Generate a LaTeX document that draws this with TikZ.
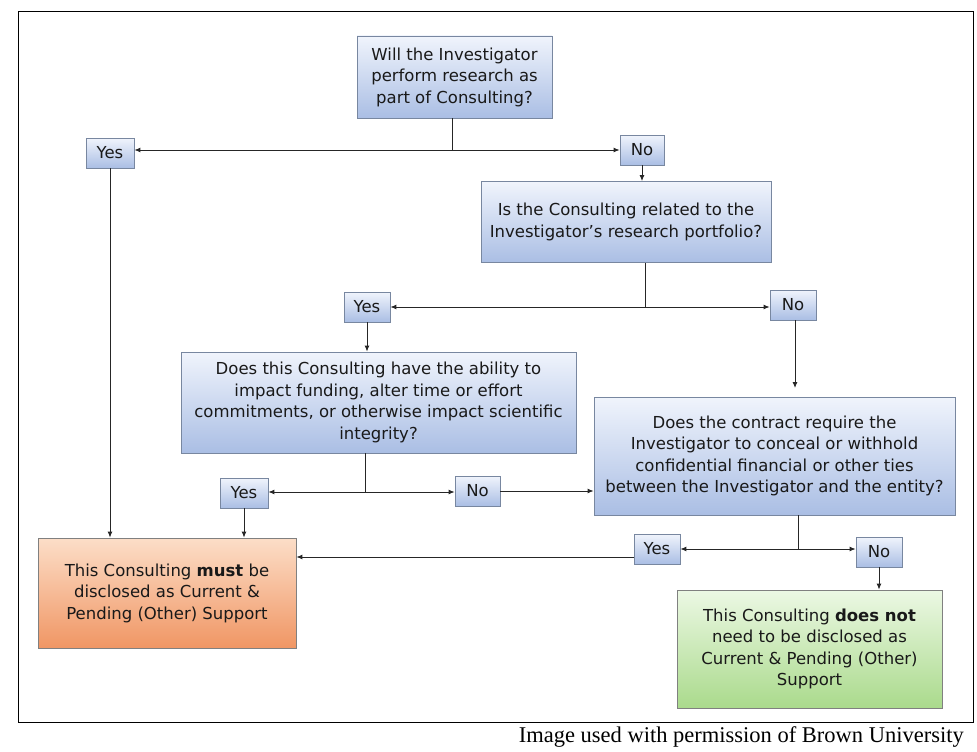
\documentclass[tikz,border=0pt]{standalone}
\usepackage{fontspec}
\setmainfont{DejaVu Sans}
\newfontfamily\capfont{Liberation Serif}
\usetikzlibrary{arrows.meta}
\definecolor{bord}{RGB}{120,135,160}
\definecolor{btop}{RGB}{240,244,252}
\definecolor{bbot}{RGB}{170,190,228}
\definecolor{otop}{RGB}{252,222,200}
\definecolor{obot}{RGB}{240,150,100}
\definecolor{gtop}{RGB}{236,248,228}
\definecolor{gbot}{RGB}{170,218,140}
\tikzset{
  bx/.style={draw=bord, line width=0.8pt, top color=btop, bottom color=bbot, align=center, inner sep=0pt,
    font=\fontsize{16.5}{21.5}\selectfont, text=black!90},
  yn/.style={bx, font=\fontsize{16.5}{18}\selectfont},
  ln/.style={line width=0.9pt, black!85},
  ar/.style={ln, -{Latex[length=6pt,width=5pt]}}
}
\begin{document}
\begin{tikzpicture}[x=1pt,y=-1pt]
\useasboundingbox (0,0) rectangle (977,752);
\draw[line width=1pt] (18,12) rectangle (973,722);
\node[font=\capfont\fontsize{22.5}{24}\selectfont, anchor=east, inner sep=0pt] (cap) at (964,737) {Image used with permission of Brown University};

\node[bx, minimum width=195, minimum height=82] (q1) at (454.5,77) {Will the Investigator\\perform research as\\part of Consulting?};
\node[yn, minimum width=48, minimum height=30] (y1) at (110,153) {Yes};
\node[yn, minimum width=44, minimum height=30] (n1) at (642,150) {No};
\node[bx, minimum width=290, minimum height=81] (q2) at (626,222) {Is the Consulting related to the\\Investigator’s research portfolio?};
\node[yn, minimum width=46, minimum height=30] (y2) at (367,307) {Yes};
\node[yn, minimum width=46, minimum height=30] (n2) at (793,305) {No};
\node[bx, minimum width=395, minimum height=101] (q3) at (378.5,402.5) {Does this Consulting have the ability to\\impact funding, alter time or effort\\commitments, or otherwise impact scientific\\integrity?};
\node[bx, minimum width=361, minimum height=118] (q4) at (774.5,456) {Does the contract require the\\Investigator to conceal or withhold\\confidential financial or other ties\\between the Investigator and the entity?};
\node[yn, minimum width=48, minimum height=30] (y3) at (244,493) {Yes};
\node[yn, minimum width=45, minimum height=30] (n3) at (477.5,491) {No};
\node[yn, minimum width=46, minimum height=30] (y4) at (657,549) {Yes};
\node[yn, minimum width=46, minimum height=30] (n4) at (879,552) {No};
\node[bx, top color=otop, bottom color=obot, draw=gray, minimum width=258, minimum height=110] (or) at (167,593) {This Consulting \textbf{must} be\\disclosed as Current \&\\Pending (Other) Support};
\node[bx, top color=gtop, bottom color=gbot, draw=gray, minimum width=265, minimum height=118] (gr) at (809.5,649) {This Consulting \textbf{does not}\\need to be disclosed as\\Current \& Pending (Other)\\Support};

\coordinate (j1) at (452,150);
\draw[ln] (452,118) -- (j1);
\draw[ar] (j1) -- (y1.east |- j1);
\draw[ar] (j1) -- (n1.west);
\draw[ar] (n1.south) -- (q2.north -| n1.south);
\coordinate (j2) at (645,307);
\draw[ln] (645,263) -- (j2);
\draw[ar] (j2) -- (y2.east);
\draw[ar] (j2) -- (n2.west |- j2);
\draw[ar] (y2.south) -- (q3.north -| y2.south);
\draw[ar] (795,320) -- (795,388);
\coordinate (j3) at (365,492);
\draw[ln] (365,453) -- (j3);
\draw[ar] (j3) -- (y3.east |- j3);
\draw[ar] (j3) -- (n3.west |- j3);
\draw[ar] (n3.east) -- (q4.west |- n3.east);
\draw[ar] (y3.south) -- (or.north -| y3.south);
\draw[ar] (y1.south) -- (or.north -| y1.south);
\coordinate (j4) at (798,549);
\draw[ln] (798,515) -- (j4);
\draw[ar] (j4) -- (y4.east);
\draw[ar] (j4) -- (n4.west |- j4);
\draw[ar] (634,557) -- (or.east |- 0,557);
\draw[ar] (n4.south) -- (gr.north -| n4.south);
\end{tikzpicture}
\end{document}
